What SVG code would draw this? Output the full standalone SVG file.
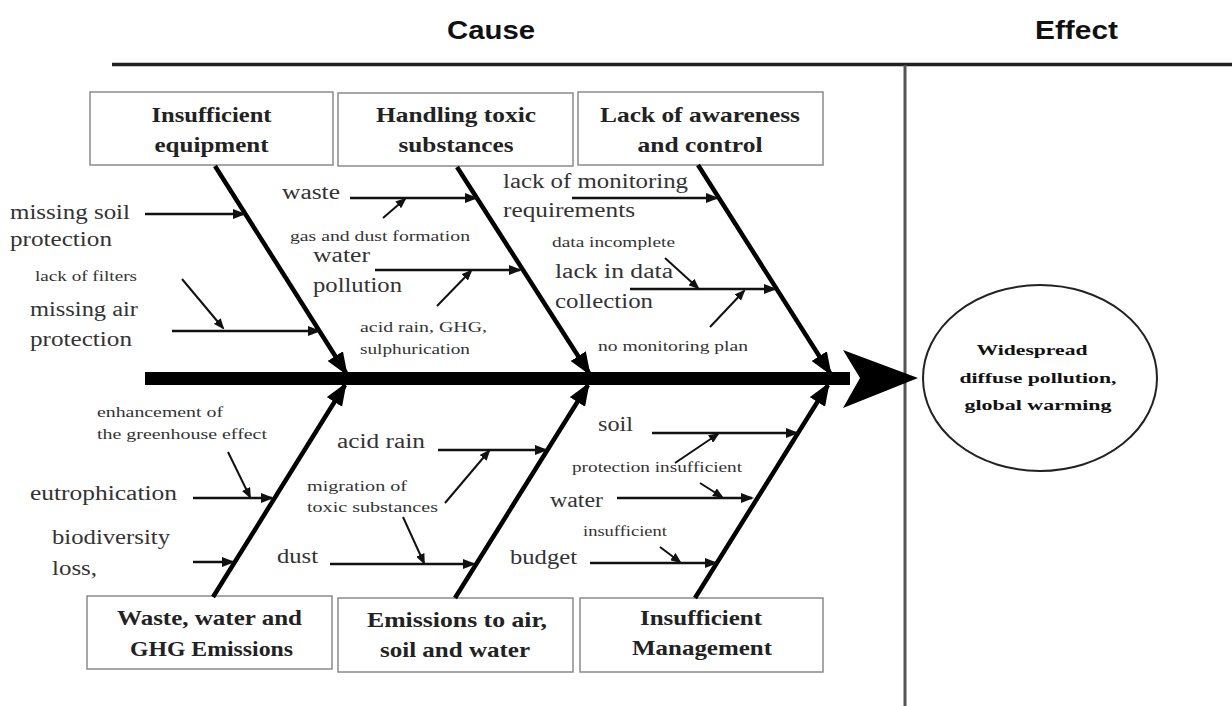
<svg xmlns="http://www.w3.org/2000/svg" width="1232" height="706" viewBox="0 0 1232 706">
<style>
.hdr{font-family:"Liberation Sans",Arial,sans-serif;font-weight:bold;font-size:26px;fill:#111}
.box{fill:#fff;stroke:#8a8a8a;stroke-width:1.5}
.bt{font-family:"Liberation Serif","Times New Roman",serif;font-weight:bold;font-size:21px;fill:#222;text-anchor:middle}
.lb{font-family:"Liberation Serif","Times New Roman",serif;font-size:20px;fill:#333}
.sm{font-family:"Liberation Serif","Times New Roman",serif;font-size:14px;fill:#333}
.et{font-family:"Liberation Serif","Times New Roman",serif;font-weight:bold;font-size:15px;fill:#111;text-anchor:middle}
.bone{stroke:#000;stroke-width:4.5;fill:none;marker-end:url(#big)}
.sub{stroke:#111;stroke-width:2.4;fill:none;marker-end:url(#mid)}
.ann{stroke:#111;stroke-width:2;fill:none;marker-end:url(#small)}
</style>
<defs>
<marker id="big" markerUnits="userSpaceOnUse" markerWidth="26" markerHeight="18" refX="20" refY="9" orient="auto"><path d="M0,0 L23,9 L0,18 Z" fill="#000"/></marker>
<marker id="mid" markerUnits="userSpaceOnUse" markerWidth="14" markerHeight="10" refX="11" refY="5" orient="auto"><path d="M0,0 L13,5 L0,10 Z" fill="#111"/></marker>
<marker id="small" markerUnits="userSpaceOnUse" markerWidth="12" markerHeight="9" refX="9" refY="4.5" orient="auto"><path d="M0,0 L11,4.5 L0,9 Z" fill="#111"/></marker>
</defs>
<rect width="1232" height="706" fill="#fff"/>

<g id="frame">
<text class="hdr" x="447" y="39" textLength="88" lengthAdjust="spacingAndGlyphs">Cause</text>
<text class="hdr" x="1035" y="39" textLength="83" lengthAdjust="spacingAndGlyphs">Effect</text>
<line x1="112" y1="64.5" x2="1232" y2="64.5" stroke="#222" stroke-width="3.5"/>
<line x1="905" y1="65" x2="905" y2="706" stroke="#555" stroke-width="3"/>
</g>

<g id="spine">
<rect x="145" y="372" width="705" height="13" fill="#000"/>
<path d="M918,378 L843,350 L860,378 L843,408 Z" fill="#000"/>
</g>

<g id="node-insufficient-equipment">
<rect class="box" x="90" y="92" width="243" height="73"/>
<text class="bt" x="211.5" y="122" textLength="120" lengthAdjust="spacingAndGlyphs">Insufficient</text>
<text class="bt" x="211.5" y="152" textLength="114" lengthAdjust="spacingAndGlyphs">equipment</text>
</g>
<g id="node-handling-toxic">
<rect class="box" x="338" y="93" width="235" height="73"/>
<text class="bt" x="456" y="122" textLength="160" lengthAdjust="spacingAndGlyphs">Handling toxic</text>
<text class="bt" x="456" y="152" textLength="115" lengthAdjust="spacingAndGlyphs">substances</text>
</g>
<g id="node-lack-awareness">
<rect class="box" x="578" y="92" width="245" height="73"/>
<text class="bt" x="700" y="122" textLength="200" lengthAdjust="spacingAndGlyphs">Lack of awareness</text>
<text class="bt" x="700" y="152" textLength="125" lengthAdjust="spacingAndGlyphs">and control</text>
</g>
<g id="node-waste-water">
<rect class="box" x="87" y="596" width="245" height="73"/>
<text class="bt" x="209.5" y="625" textLength="185" lengthAdjust="spacingAndGlyphs">Waste, water and</text>
<text class="bt" x="211.5" y="656" textLength="163" lengthAdjust="spacingAndGlyphs">GHG Emissions</text>
</g>
<g id="node-emissions">
<rect class="box" x="338" y="598" width="235" height="74"/>
<text class="bt" x="457" y="627" textLength="180" lengthAdjust="spacingAndGlyphs">Emissions to air,</text>
<text class="bt" x="455" y="657" textLength="150" lengthAdjust="spacingAndGlyphs">soil and water</text>
</g>
<g id="node-insufficient-management">
<rect class="box" x="580" y="598" width="243" height="74"/>
<text class="bt" x="701" y="625" textLength="122" lengthAdjust="spacingAndGlyphs">Insufficient</text>
<text class="bt" x="702" y="655" textLength="140" lengthAdjust="spacingAndGlyphs">Management</text>
</g>
<g id="node-effect">
<ellipse cx="1040" cy="378" rx="117" ry="93" fill="#fff" stroke="#222" stroke-width="2"/>
<text class="et" x="1032" y="355" textLength="111" lengthAdjust="spacingAndGlyphs">Widespread</text>
<text class="et" x="1038" y="383" textLength="157" lengthAdjust="spacingAndGlyphs">diffuse pollution,</text>
<text class="et" x="1038" y="410" textLength="147" lengthAdjust="spacingAndGlyphs">global warming</text>
</g>

<g id="labels">
<text class="lb" x="10" y="219" textLength="120" lengthAdjust="spacingAndGlyphs">missing soil</text>
<text class="lb" x="10" y="246" textLength="102" lengthAdjust="spacingAndGlyphs">protection</text>
<text class="sm" x="35" y="281" textLength="102" lengthAdjust="spacingAndGlyphs">lack of filters</text>
<text class="lb" x="30" y="316" textLength="108" lengthAdjust="spacingAndGlyphs">missing air</text>
<text class="lb" x="30" y="346" textLength="102" lengthAdjust="spacingAndGlyphs">protection</text>

<text class="lb" x="282" y="199" textLength="58" lengthAdjust="spacingAndGlyphs">waste</text>
<text class="sm" x="290" y="241" textLength="180" lengthAdjust="spacingAndGlyphs">gas and dust formation</text>
<text class="lb" x="313" y="262" textLength="57" lengthAdjust="spacingAndGlyphs">water</text>
<text class="lb" x="313" y="292" textLength="89" lengthAdjust="spacingAndGlyphs">pollution</text>
<text class="sm" x="360" y="332" textLength="127" lengthAdjust="spacingAndGlyphs">acid rain, GHG,</text>
<text class="sm" x="360" y="354" textLength="110" lengthAdjust="spacingAndGlyphs">sulphurication</text>

<text class="lb" x="503" y="188" textLength="185" lengthAdjust="spacingAndGlyphs">lack of monitoring</text>
<text class="lb" x="503" y="217" textLength="132" lengthAdjust="spacingAndGlyphs">requirements</text>
<text class="sm" x="552" y="247" textLength="123" lengthAdjust="spacingAndGlyphs">data incomplete</text>
<text class="lb" x="555" y="278" textLength="118" lengthAdjust="spacingAndGlyphs">lack in data</text>
<text class="lb" x="555" y="308" textLength="98" lengthAdjust="spacingAndGlyphs">collection</text>
<text class="sm" x="598" y="351" textLength="150" lengthAdjust="spacingAndGlyphs">no monitoring plan</text>

<text class="sm" x="97" y="417" textLength="126" lengthAdjust="spacingAndGlyphs">enhancement of</text>
<text class="sm" x="97" y="439" textLength="170" lengthAdjust="spacingAndGlyphs">the greenhouse effect</text>
<text class="lb" x="30" y="500" textLength="147" lengthAdjust="spacingAndGlyphs">eutrophication</text>
<text class="lb" x="52" y="544" textLength="118" lengthAdjust="spacingAndGlyphs">biodiversity</text>
<text class="lb" x="52" y="575" textLength="45" lengthAdjust="spacingAndGlyphs">loss,</text>

<text class="lb" x="337" y="448" textLength="88" lengthAdjust="spacingAndGlyphs">acid rain</text>
<text class="sm" x="307" y="491" textLength="100" lengthAdjust="spacingAndGlyphs">migration of</text>
<text class="sm" x="307" y="512" textLength="131" lengthAdjust="spacingAndGlyphs">toxic substances</text>
<text class="lb" x="277" y="563" textLength="41" lengthAdjust="spacingAndGlyphs">dust</text>

<text class="lb" x="598" y="431" textLength="35" lengthAdjust="spacingAndGlyphs">soil</text>
<text class="sm" x="572" y="472" textLength="170" lengthAdjust="spacingAndGlyphs">protection insufficient</text>
<text class="lb" x="550" y="507" textLength="53" lengthAdjust="spacingAndGlyphs">water</text>
<text class="sm" x="583" y="536" textLength="84" lengthAdjust="spacingAndGlyphs">insufficient</text>
<text class="lb" x="510" y="564" textLength="67" lengthAdjust="spacingAndGlyphs">budget</text>
</g>

<g id="connectors">
<line class="bone" x1="215" y1="166" x2="346" y2="373"/>
<line class="bone" x1="457" y1="167" x2="589" y2="373"/>
<line class="bone" x1="698" y1="165" x2="830" y2="373"/>
<line class="bone" x1="213" y1="597" x2="345" y2="385"/>
<line class="bone" x1="455" y1="598" x2="588" y2="385"/>
<line class="bone" x1="695" y1="598" x2="828" y2="385"/>

<line class="sub" x1="145" y1="214" x2="244" y2="214"/>
<line class="sub" x1="172" y1="331" x2="319" y2="331"/>
<line class="ann" x1="182" y1="279" x2="223" y2="328"/>

<line class="sub" x1="350" y1="198" x2="476" y2="198"/>
<line class="ann" x1="383" y1="218" x2="405" y2="199"/>
<line class="sub" x1="375" y1="270" x2="520" y2="270"/>
<line class="ann" x1="437" y1="306" x2="471" y2="271"/>

<line class="sub" x1="572" y1="198" x2="717" y2="198"/>
<line class="sub" x1="630" y1="289" x2="775" y2="289"/>
<line class="ann" x1="665" y1="258" x2="698" y2="288"/>
<line class="ann" x1="710" y1="327" x2="744" y2="291"/>

<line class="ann" x1="228" y1="452" x2="250" y2="497"/>
<line class="sub" x1="193" y1="498" x2="272" y2="498"/>
<line class="sub" x1="193" y1="562" x2="233" y2="562"/>

<line class="sub" x1="438" y1="450" x2="546" y2="450"/>
<line class="ann" x1="445" y1="503" x2="489" y2="451"/>
<line class="ann" x1="403" y1="517" x2="424" y2="563"/>
<line class="sub" x1="330" y1="564" x2="474" y2="564"/>

<line class="sub" x1="652" y1="433" x2="797" y2="433"/>
<line class="ann" x1="675" y1="463" x2="718" y2="434"/>
<line class="sub" x1="617" y1="498" x2="752" y2="498"/>
<line class="ann" x1="700" y1="483" x2="722" y2="497"/>
<line class="sub" x1="590" y1="563" x2="716" y2="563"/>
<line class="ann" x1="660" y1="547" x2="680" y2="562"/>
</g>
</svg>
